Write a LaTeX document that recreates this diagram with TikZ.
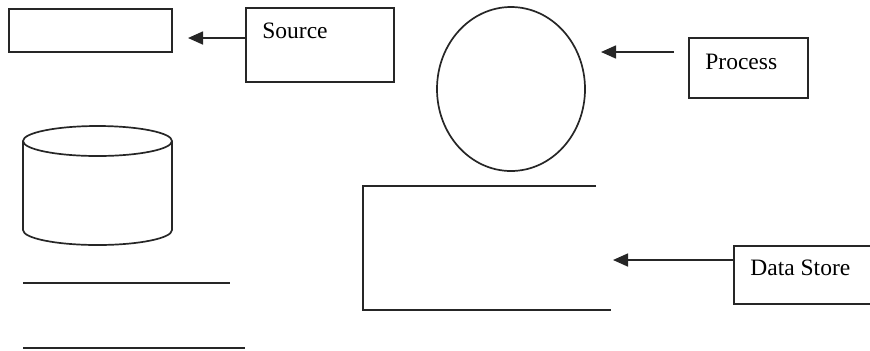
\documentclass[tikz,border=0pt]{standalone}
\usepackage{fontspec}
\setmainfont{Liberation Serif}
\usetikzlibrary{arrows.meta,shapes.geometric}

\begin{document}
\begin{tikzpicture}[
  x=0.5pt, y=-0.5pt,
  font=\fontsize{11.75}{14}\selectfont,
  box/.style={rectangle, draw=black!85, line width=0.85pt, inner sep=0pt, anchor=north west},
  bubble/.style={ellipse, draw=black!85, line width=0.85pt, inner sep=0pt,
                 minimum width=74pt, minimum height=82pt},
  stroke/.style={draw=black!85, line width=0.85pt},
  a/.style={-{Triangle[length=7.5pt,width=6.5pt]}, line width=0.8pt, black!85},
  tag/.style={anchor=west, inner sep=0pt},
]
\useasboundingbox (0,0) rectangle (870,350);
\clip (0,0) rectangle (870,350);

% ---- source (external entity)
\node[box, minimum width=81.5pt, minimum height=21.5pt] (ent) at (8,8) {};
\node[box, minimum width=74pt, minimum height=37pt] (src) at (245,7) {};
\node[tag] (srcTag) at (262,31) {Source};
\coordinate (srcTip) at (188,38);
\draw[a] (src.west |- srcTip) -- (srcTip);

% ---- process
\node[bubble] (proc) at (511,89) {};
\node[box, minimum width=59.5pt, minimum height=30pt] (prc) at (688,37) {};
\node[tag] (prcTag) at (705,61.5) {Process};
\coordinate (prcTail) at (674,52);
\coordinate (prcTip) at (601,52);
\draw[a] (prcTail) -- (prcTip);

% ---- cylinder and the two lines below it
\draw[stroke] (97.5,141) ellipse [x radius=74.5, y radius=15];
\draw[stroke] (23,141) -- (23,230) arc[start angle=180, end angle=360, x radius=74.5, y radius=-15]
  -- (172,141);
\draw[stroke] (23,283) -- (230,283);
\draw[stroke] (23,348) -- (245,348);

% ---- data store
\draw[stroke] (596,186) -- (363,186) -- (363,310) -- (611,310);
\node[box, minimum width=90pt, minimum height=29pt] (ds) at (733,245) {};
\node[tag] (dsTag) at (750,268) {Data Store};
\coordinate (dsTip) at (613,260);
\draw[a] (ds.west |- dsTip) -- (dsTip);
\end{tikzpicture}
\end{document}
